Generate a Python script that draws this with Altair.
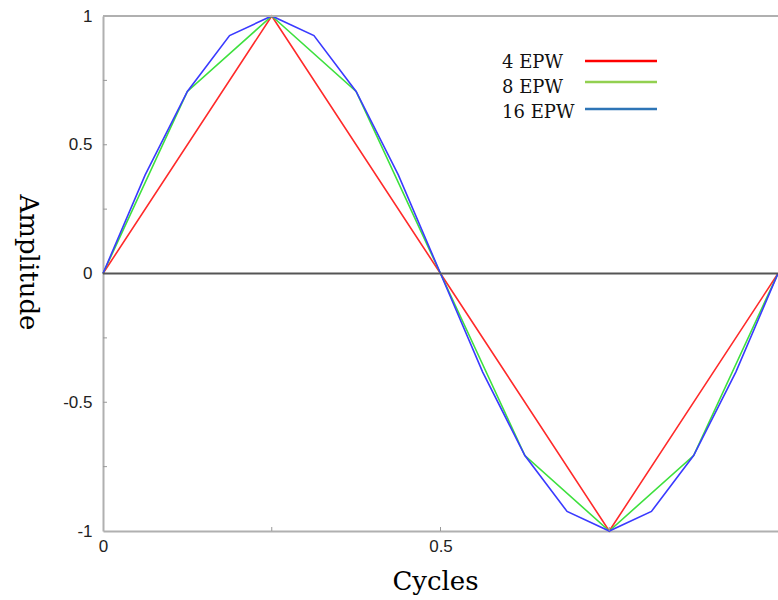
import altair as alt
import pandas as pd

# ---- data ----
series_names = ["4 EPW", "8 EPW", "16 EPW"]

x4 = [0, 0.25, 0.5, 0.75, 1]
y4 = [0, 1, 0, -1, 0]

x8 = [0, 0.125, 0.25, 0.375, 0.5, 0.625, 0.75, 0.875, 1]
y8 = [0, 0.707, 1, 0.707, 0, -0.707, -1, -0.707, 0]

x16 = [0, 0.0625, 0.125, 0.1875, 0.25, 0.3125, 0.375, 0.4375, 0.5,
       0.5625, 0.625, 0.6875, 0.75, 0.8125, 0.875, 0.9375, 1]
y16 = [0, 0.383, 0.707, 0.924, 1, 0.924, 0.707, 0.383, 0,
       -0.383, -0.707, -0.924, -1, -0.924, -0.707, -0.383, 0]

x_tick_labels = [0, 0.5]
y_tick_labels = [-1, -0.5, 0, 0.5, 1]
x_minor_ticks = [0.25, 0.5, 0.75]
y_minor_ticks = [-0.75, -0.5, -0.25, 0.25, 0.5, 0.75]

line_colors = ["#ff2a2a", "#3ee03e", "#3a3aff"]
legend_colors = ["#ff0000", "#92d050", "#2e75b6"]

W, H = 675, 515

rows = []
for name, xs, ys in [(series_names[0], x4, y4), (series_names[1], x8, y8), (series_names[2], x16, y16)]:
    for xv, yv in zip(xs, ys):
        rows.append({"series": name, "x": xv, "y": yv})
df = pd.DataFrame(rows)

xscale = alt.Scale(domain=[0, 1], nice=False, zero=False)
yscale = alt.Scale(domain=[-1, 1], nice=False, zero=False)

x_axis = alt.Axis(
    values=x_tick_labels, labelFlush=False, labelExpr="'' + datum.value",
    labelFont="Liberation Sans", labelFontSize=17, labelColor="#222222",
    labelPadding=7, tickSize=0, domainColor="#b0b0b0", domainWidth=2,
    grid=False, title="Cycles", titleFont="DejaVu Serif", titleFontSize=26,
    titleFontWeight="normal", titleColor="#000000", titleX=332, titleY=58,
    titleBaseline="alphabetic",
)
y_axis = alt.Axis(
    values=y_tick_labels, labelExpr="'' + datum.value",
    labelFont="Liberation Sans", labelFontSize=17, labelColor="#222222",
    labelPadding=11, tickSize=0, domainColor="#b0b0b0", domainWidth=2,
    grid=False, title="Amplitude", titleFont="DejaVu Serif", titleFontSize=26,
    titleFontWeight="normal", titleColor="#000000", titleAngle=90,
    titleX=-76, titleY=246, titleAlign="center", titleBaseline="middle",
)

lines = alt.Chart(df).mark_line(strokeWidth=1.6).encode(
    x=alt.X("x:Q", scale=xscale, axis=x_axis),
    y=alt.Y("y:Q", scale=yscale, axis=y_axis),
    color=alt.Color("series:N", scale=alt.Scale(domain=series_names, range=line_colors), legend=None),
    order="x:Q",
)

zero_line = alt.Chart(pd.DataFrame({"y": [0]})).mark_rule(
    color="#555555", strokeWidth=2
).encode(y=alt.Y("y:Q", scale=yscale))

top_line = alt.Chart(pd.DataFrame({"y": [1]})).mark_rule(
    color="#b0b0b0", strokeWidth=2
).encode(y=alt.Y("y:Q", scale=yscale))

y_ticks = alt.Chart(pd.DataFrame({"y": y_minor_ticks})).mark_rule(
    color="#999999", strokeWidth=1
).encode(y=alt.Y("y:Q", scale=yscale), x=alt.value(0), x2=alt.value(4))

x_ticks = alt.Chart(pd.DataFrame({"x": x_minor_ticks})).mark_rule(
    color="#999999", strokeWidth=1
).encode(x=alt.X("x:Q", scale=xscale), y=alt.value(H), y2=alt.value(H - 4))

legend_layers = []
text_y = [52, 77, 102]
swatch_y = [45, 66, 93]
for i, name in enumerate(series_names):
    legend_layers.append(
        alt.Chart(pd.DataFrame({"label": [name]})).mark_text(
            font="DejaVu Serif", fontSize=18, align="left", baseline="alphabetic", color="#111111"
        ).encode(text="label:N", x=alt.value(399), y=alt.value(text_y[i]))
    )
    legend_layers.append(
        alt.Chart(pd.DataFrame({"label": [name]})).mark_rule(
            color=legend_colors[i], strokeWidth=2.5
        ).encode(x=alt.value(482), x2=alt.value(554), y=alt.value(swatch_y[i]))
    )

chart = alt.layer(
    lines, zero_line, top_line, y_ticks, x_ticks, *legend_layers
).properties(
    width=W, height=H,
    autosize=alt.AutoSizeParams(type="none"),
    padding={"left": 103, "top": 16, "right": 0, "bottom": 69},
    background="white",
).configure_view(stroke=None)

chart.save("out.html", embed_options={"renderer": "svg", "actions": False})
